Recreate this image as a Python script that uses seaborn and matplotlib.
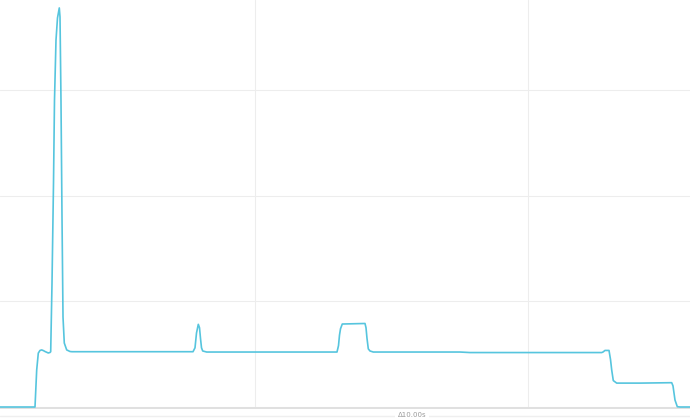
import matplotlib
matplotlib.use("Agg")
import matplotlib.pyplot as plt
import numpy as np
import pandas as pd
import seaborn as sns

# trace samples: time (s) and signal value
time_s = [
    0.0, 1.282, 1.344, 1.403, 1.465, 1.527, 1.593, 1.648, 1.769, 1.832,
    1.857, 1.905, 1.960, 1.996, 2.051, 2.106, 2.172, 2.198, 2.234, 2.271,
    2.308, 2.355, 2.443, 2.564, 2.637,
    7.070, 7.143, 7.198, 7.264, 7.308, 7.344, 7.381, 7.425, 7.571,
    12.344, 12.399, 12.436, 12.473, 12.538, 13.370, 13.407, 13.443, 13.491,
    13.553, 13.674,
    16.850, 17.216, 22.040, 22.088, 22.161, 22.308, 22.363, 22.407, 22.465,
    22.590, 23.443, 24.604, 24.652, 24.725, 24.810, 24.908, 25.275,
]
signal = [
    0.0, 0.0, 35.0, 51.0, 53.5, 54.0, 53.3, 52.5, 51.1, 51.6,
    52.3, 117.0, 212.0, 290.0, 347.0, 368.0, 377.5, 369.0, 290.0, 180.0,
    85.0, 60.5, 54.0, 52.5, 52.3,
    52.3, 56.0, 70.0, 78.2, 75.0, 65.0, 56.0, 53.0, 52.0,
    52.0, 58.0, 68.0, 74.0, 78.5, 79.0, 75.0, 65.0, 55.0,
    53.0, 52.0,
    52.0, 51.5, 51.5, 52.0, 53.5, 53.5, 45.0, 35.0, 25.0,
    22.6, 22.6, 23.0, 20.0, 6.6, 0.3, 0.0, 0.0,
]
grid_x = [9.34, 19.34]
grid_y = [0, 100, 200, 300]
scale_label = "Δ10.00s"

df = pd.DataFrame({"time": time_s, "value": signal})

sns.set_style("whitegrid", {"grid.color": "#ededed"})
plt.rcParams["font.family"] = ["DejaVu Sans"]

fig = plt.figure(figsize=(6.9, 4.2), dpi=100)
ax = fig.add_axes([0, 13 / 420, 1, 407 / 420])

sns.lineplot(data=df, x="time", y="value", color="#56c5de", linewidth=1.2,
             estimator=None, sort=False, ax=ax, zorder=3, clip_on=False)

ax.set_xlim(0, 25.275)
ax.set_ylim(0, 385)
ax.set_xticks(grid_x)
ax.set_yticks(grid_y)
ax.set_xticklabels([])
ax.set_yticklabels([])
ax.set_xlabel("")
ax.set_ylabel("")
ax.grid(True, color="#ededed", linewidth=0.8)
ax.tick_params(axis="x", length=4, color="#ededed", width=0.8)
ax.tick_params(axis="y", length=0)
for side in ["top", "left", "right"]:
    ax.spines[side].set_visible(False)
ax.spines["bottom"].set_color("#dadada")
ax.spines["bottom"].set_linewidth(1.2)
ax.spines["bottom"].set_position(("outward", 1))

# faint time-scale bar below the axis
fig.add_artist(plt.Line2D([0, 1], [0.0105, 0.0105], color="#efefef",
                          linewidth=1.0, transform=fig.transFigure))
fig.text(0.597, 0.0125, scale_label, ha="center", va="center", fontsize=5,
         color="#999999",
         bbox=dict(facecolor="white", edgecolor="none", pad=2))

fig.savefig("out.png", dpi=100)
